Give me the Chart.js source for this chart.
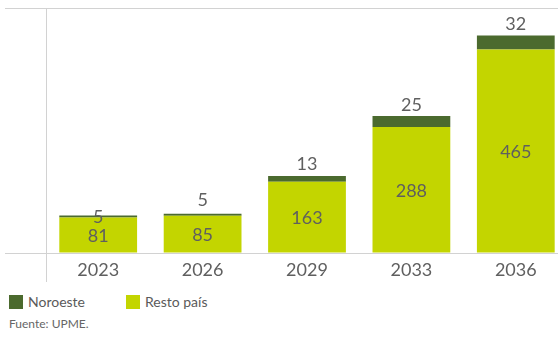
<!DOCTYPE html>
<html>
<head>
<meta charset="utf-8">
<script src="https://cdn.jsdelivr.net/npm/chart.js@4"></script>
<style>
    html, body { margin: 0; padding: 0; background: #fff; overflow: hidden; }
    body { width: 558px; height: 343px; position: relative; font-family: Lato, "Open Sans", sans-serif; }
    #wrap { position: absolute; left: 0; top: 0; width: 568px; height: 282px; }
    .legend { position: absolute; top: 295px; left: 9px; font-size: 14px; color: #5a5a5a; }
    .legend span { position: absolute; white-space: nowrap; line-height: 14px; }
    .legend i { display: inline-block; width: 14px; height: 14px; vertical-align: top; margin-right: 5px; }
    .source { position: absolute; left: 9px; top: 316px; font-size: 12px; color: #666; }
</style>
</head>
<body>
<div id="wrap"><canvas id="chart"></canvas></div>
<div class="legend">
    <span style="left:0"><i style="background:#4b6a2e"></i>Noroeste</span>
    <span style="left:117px"><i style="background:#c3d500"></i>Resto país</span>
</div>
<div class="source">Fuente: UPME.</div>
<script>
const years = ['2023', '2026', '2029', '2033', '2036'];
const restoPais = [81, 85, 163, 288, 465];
const noroeste = [5, 5, 13, 25, 32];

const textColor = '#5f5f5f';
const lineColor = '#d2d2d2';
// the first "5" sits on the bar edge in the original
const topLabelLift = [-2, 13, 11.5, 11, 11];

const labelsPlugin = {
    id: 'barLabels',
    afterDatasetsDraw(chart) {
        const ctx = chart.ctx;
        ctx.save();
        ctx.font = '18px Lato, "Open Sans", sans-serif';
        ctx.fillStyle = textColor;
        ctx.textAlign = 'center';
        ctx.textBaseline = 'middle';
        const bottomBars = chart.getDatasetMeta(0).data;
        const topBars = chart.getDatasetMeta(1).data;
        bottomBars.forEach((bar, i) => {
            ctx.fillText(restoPais[i], bar.x, (bar.y + bar.base) / 2 + 1);
        });
        topBars.forEach((bar, i) => {
            ctx.fillText(noroeste[i], bar.x, bar.y - topLabelLift[i]);
        });
        ctx.restore();
    }
};

const axisLinePlugin = {
    id: 'axisLine',
    afterDraw(chart) {
        const { ctx, chartArea } = chart;
        ctx.save();
        ctx.strokeStyle = lineColor;
        ctx.lineWidth = 1;
        ctx.beginPath();
        ctx.moveTo(chartArea.left + 0.5, chartArea.top);
        ctx.lineTo(chartArea.left + 0.5, chartArea.bottom + 29);
        ctx.stroke();
        ctx.restore();
    }
};

new Chart(document.getElementById('chart'), {
    type: 'bar',
    data: {
        labels: years,
        datasets: [{
            label: 'Resto país',
            data: restoPais,
            backgroundColor: '#c3d500'
        }, {
            label: 'Noroeste',
            data: noroeste,
            backgroundColor: '#4b6a2e'
        }]
    },
    options: {
        responsive: true,
        maintainAspectRatio: false,
        animation: false,
        layout: { padding: { left: 5, top: 8, right: 0, bottom: 0 } },
        datasets: { bar: { barPercentage: 0.745, categoryPercentage: 1 } },
        scales: {
            x: {
                stacked: true,
                grid: { display: false, drawTicks: false },
                border: { display: false },
                afterFit(scale) { scale.height = 29; },
                ticks: {
                    color: textColor,
                    padding: 6,
                    font: { family: 'Lato, "Open Sans", sans-serif', size: 18 }
                }
            },
            y: {
                stacked: true,
                min: 0,
                max: 560,
                border: { display: false },
                grid: { color: lineColor, tickLength: 41 },
                ticks: { display: false, stepSize: 560 }
            }
        },
        plugins: {
            legend: { display: false },
            tooltip: { enabled: false }
        }
    },
    plugins: [labelsPlugin, axisLinePlugin]
});
</script>
</body>
</html>
